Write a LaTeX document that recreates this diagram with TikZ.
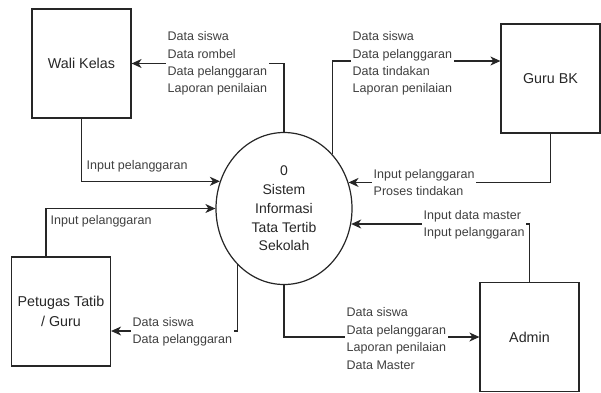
\documentclass[tikz,border=0pt]{standalone}
\usepackage{fontspec}
\setmainfont{Liberation Sans}
\usetikzlibrary{shapes.geometric,arrows.meta}

\tikzset{
  entity/.style={draw=black!85,line width=1.2pt,minimum width=99pt,minimum height=109pt,
    align=center,font=\fontsize{14.3}{19.5}\selectfont,text=black!85},
  proses/.style={ellipse,draw=black!85,line width=1.2pt,minimum width=136pt,minimum height=152pt,
    inner sep=0pt,align=center,font=\fontsize{14}{18.7}\selectfont,text=black!85},
  flow/.style={draw=black!85,line width=1.2pt,-{Stealth[length=10pt,width=9pt,inset=3pt]}},
  lbl/.style={fill=white,anchor=west,align=left,inner sep=1.5pt,
    font=\fontsize{12.5}{17.4}\selectfont,text=black!75}
}

\begin{document}
\begin{tikzpicture}[x=1pt,y=-1pt]
	\useasboundingbox (0,0) rectangle (601,392);
	% proses dan entitas
	\node[proses] (sistem) at (284,208.5) {0\\Sistem\\Informasi\\Tata Tertib\\Sekolah};
	\node[entity] (wali) at (81.5,63.5) {Wali Kelas};
	\node[entity] (gurubk) at (550.5,78.5) {Guru BK};
	\node[entity] (petugas) at (61,311.5) {Petugas Tatib\\/ Guru};
	\node[entity] (admin) at (529.5,337) {Admin};
	% aliran data
	\draw[flow] (sistem.north) |- (wali.east);
	\draw[flow] (wali.south) |- (sistem.157);
	\draw[flow] (sistem.48) |- ([yshift=17.5pt]gurubk.west);
	\draw[flow] (gurubk.south) |- (sistem.22);
	\draw[flow] ([xshift=-15pt]petugas.north) |- (sistem.west);
	\draw[flow] (sistem.230) |- ([yshift=-19.5pt]petugas.east);
	\draw[flow] (sistem.south) |- (admin.west);
	\draw[flow] (admin.north) |- (sistem.-13);
	% label aliran
	\node[lbl] (lwali) at (166,63.5) {Data siswa\\Data rombel\\Data pelanggaran\\Laporan penilaian};
	\node[lbl] (lwaliin) at (85,166) {Input pelanggaran};
	\node[lbl] (lguru) at (351,63.5) {Data siswa\\Data pelanggaran\\Data tindakan\\Laporan penilaian};
	\node[lbl] (lguruin) at (372,182.5) {Input pelanggaran\\Proses tindakan};
	\node[lbl] (lpetin) at (49,221) {Input pelanggaran};
	\node[lbl] (lpet) at (131,332) {Data siswa\\Data pelanggaran};
	\node[lbl] (ladmin) at (345,338.5) {Data siswa\\Data pelanggaran\\Laporan penilaian\\Data Master};
	\node[lbl] (ladminin) at (422,225) {Input data master\\Input pelanggaran};
\end{tikzpicture}
\end{document}
